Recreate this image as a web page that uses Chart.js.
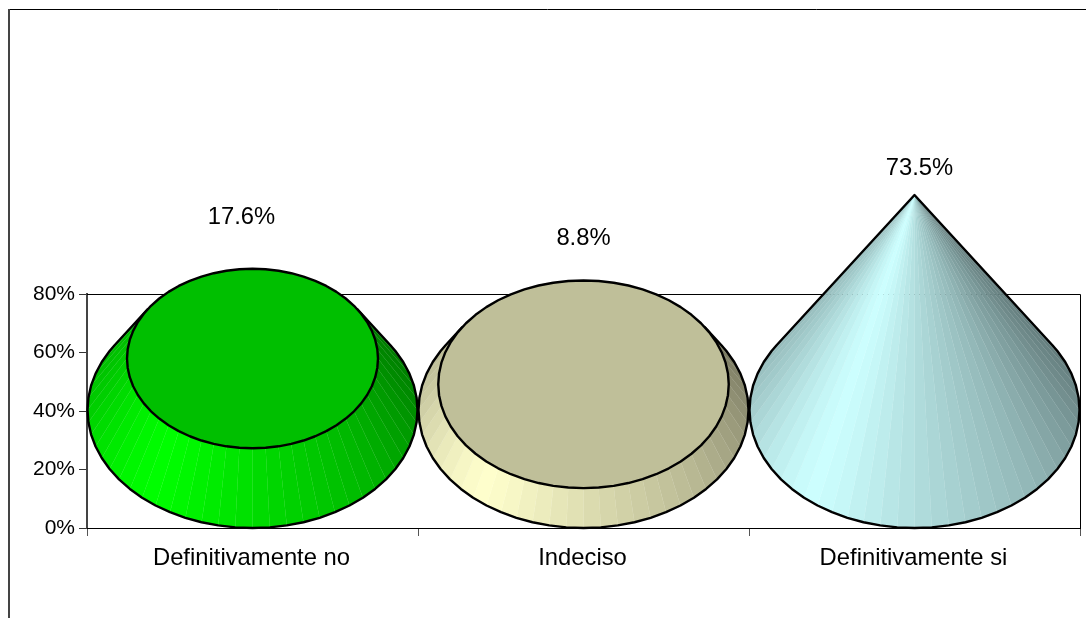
<!DOCTYPE html>
<html>
<head>
<meta charset="utf-8">
<script src="https://cdn.jsdelivr.net/npm/chart.js@4"></script>
<style>
html, body { margin: 0; padding: 0; background: #fff; }
#wrap { width: 1086px; height: 618px; }
</style>
</head>
<body>
<div id="wrap"><canvas id="coneChart" width="1086" height="618"></canvas></div>
<script>
"use strict"

const categories = ['Definitivamente no', 'Indeciso', 'Definitivamente si']
const percentages = [17.6, 8.8, 73.5]
const coneColors = [[0, 255, 0], [255, 255, 204], [204, 255, 255]]
const yTicks = [0, 20, 40, 60, 80]

// light falloff around the cone, [angle in degrees, multiplier]; 90 = front, 0 = right side
const shading = [[-40, 0.44], [0, 0.55], [45, 0.72], [90, 0.87], [120, 0.98], [130, 1], [145, 0.95], [180, 0.8], [220, 0.68]]

function shadeAt(deg) {
    for (let i = 1; i < shading.length; i++) {
        if (deg <= shading[i][0]) {
            let a = shading[i - 1], b = shading[i]
            return a[1] + (b[1] - a[1]) * (deg - a[0]) / (b[0] - a[0])
        }
    }
    return shading[shading.length - 1][1]
}

function rgb(c, m) {
    return `rgb(${Math.round(c[0] * m)},${Math.round(c[1] * m)},${Math.round(c[2] * m)})`
}

// draws the excel style 3d cones on top of the (invisible) bars
const conePlugin = {
    id: 'cones',
    beforeDatasetsDraw(chart) {
        const ctx = chart.ctx, a = chart.chartArea
        ctx.save()
        ctx.strokeStyle = '#000'
        ctx.lineWidth = 1
        ctx.beginPath()
        ctx.moveTo(a.left, a.top + 0.5)
        ctx.lineTo(a.right + 0.5, a.top + 0.5)
        ctx.lineTo(a.right + 0.5, a.bottom)
        ctx.stroke()
        ctx.restore()
    },
    afterDatasetsDraw(chart, args, opts) {
        const ctx = chart.ctx, y = chart.scales.y
        const bars = chart.getDatasetMeta(0).data
        const maxValue = Math.max(...percentages)
        const zero = y.getPixelForValue(0)
        const fullHeight = zero - y.getPixelForValue(maxValue)

        bars.forEach((bar, i) => {
            const v = percentages[i]
            const rx = bar.width / 2 - 0.5
            const ry = rx * opts.depthRatio
            const cx = bar.x
            const cy = zero - ry
            const top = cy - (zero - y.getPixelForValue(v))
            const k = 1 - v / maxValue
            // silhouette tangent, measured from the horizontal
            const tangent = Math.asin(ry / fullHeight) * 180 / Math.PI

            const basePt = d => [cx + rx * Math.cos(d * Math.PI / 180), cy + ry * Math.sin(d * Math.PI / 180)]
            const topPt = d => [cx + k * rx * Math.cos(d * Math.PI / 180), top + k * ry * Math.sin(d * Math.PI / 180)]

            // visible facet edges every 6 degrees, starting on the front seam
            let angles = [-tangent]
            for (let d = -84; d < 180 + tangent; d += 6) {
                if (d > -tangent) angles.push(d)
            }
            angles.push(180 + tangent)

            for (let n = 0; n < angles.length - 1; n++) {
                const d0 = angles[n], d1 = angles[n + 1]
                const p = [basePt(d0), basePt(d1), topPt(d1), topPt(d0)]
                ctx.beginPath()
                ctx.moveTo(p[0][0], p[0][1])
                for (let j = 1; j < 4; j++) ctx.lineTo(p[j][0], p[j][1])
                ctx.closePath()
                ctx.fillStyle = rgb(coneColors[i], shadeAt((d0 + d1) / 2))
                ctx.fill()
                // thin same colour edge, so the seams stay faint
                ctx.strokeStyle = ctx.fillStyle
                ctx.lineWidth = 0.3
                ctx.stroke()
            }

            ctx.save()
            ctx.strokeStyle = '#000'
            ctx.lineWidth = 2.4
            ctx.lineJoin = 'round'
            ctx.beginPath()
            angles.forEach((d, n) => {
                const p = basePt(d)
                if (n == 0) ctx.moveTo(p[0], p[1])
                else ctx.lineTo(p[0], p[1])
            })
            const tl = topPt(180 + tangent), tr = topPt(-tangent)
            ctx.lineTo(tl[0], tl[1])
            ctx.lineTo(tr[0], tr[1])
            ctx.closePath()
            ctx.stroke()

            if (k > 0) {
                ctx.beginPath()
                for (let d = 0; d < 360; d += 6) {
                    const p = topPt(d)
                    if (d == 0) ctx.moveTo(p[0], p[1])
                    else ctx.lineTo(p[0], p[1])
                }
                ctx.closePath()
                ctx.fillStyle = rgb(coneColors[i], 0.75)
                ctx.fill()
                ctx.stroke()
            }
            ctx.restore()

            // value label sits above the top of the shape
            ctx.save()
            ctx.fillStyle = '#000'
            ctx.font = opts.labelFont
            ctx.textAlign = 'center'
            ctx.textBaseline = 'middle'
            const topEdge = top - k * ry
            ctx.fillText(v.toFixed(1) + '%', cx + opts.labelDx[i], topEdge - opts.labelLift[i])
            ctx.restore()
        })

        // outer frame, only top and left are on the picture
        ctx.save()
        ctx.strokeStyle = '#000'
        ctx.lineWidth = 1
        ctx.beginPath()
        ctx.moveTo(9, 9.5)
        ctx.lineTo(1086, 9.5)
        ctx.stroke()
        ctx.strokeStyle = '#444'
        ctx.lineWidth = 2
        ctx.beginPath()
        ctx.moveTo(9, 9)
        ctx.lineTo(9, 618)
        ctx.stroke()
        ctx.restore()
    }
}

new Chart(document.getElementById('coneChart'), {
    type: 'bar',
    data: {
        labels: categories,
        datasets: [{
            data: percentages,
            backgroundColor: 'rgba(0,0,0,0)',
            borderWidth: 0,
            barPercentage: 1,
            categoryPercentage: 1,
        }]
    },
    plugins: [conePlugin],
    options: {
        responsive: false,
        animation: false,
        layout: { padding: { top: 294, right: 6, left: 0, bottom: 0 } },
        plugins: {
            legend: { display: false },
            tooltip: { enabled: false },
            cones: {
                depthRatio: 0.715,
                labelFont: '23.8px "Liberation Sans"',
                labelDx: [-11, 0, 5],
                labelLift: [51, 42, 27],
            },
        },
        scales: {
            y: {
                min: 0,
                max: 80,
                afterFit: s => { s.width = 87 },
                afterBuildTicks: s => { s.ticks = yTicks.map(value => ({ value })) },
                border: { color: '#444', width: 2 },
                grid: { drawOnChartArea: false, color: '#333', tickLength: 8 },
                ticks: {
                    color: '#000',
                    padding: 4,
                    font: { family: '"Liberation Sans"', size: 21 },
                    callback: v => v + '%',
                },
            },
            x: {
                afterFit: s => { s.height = 90 },
                border: { color: '#000', width: 1 },
                grid: { drawOnChartArea: false, color: '#555', tickLength: 8 },
                ticks: {
                    color: '#000',
                    padding: 8,
                    maxRotation: 0,
                    labelOffset: -1,
                    font: { family: '"Liberation Sans"', size: 23.8 },
                },
            },
        },
    },
})
</script>
</body>
</html>
